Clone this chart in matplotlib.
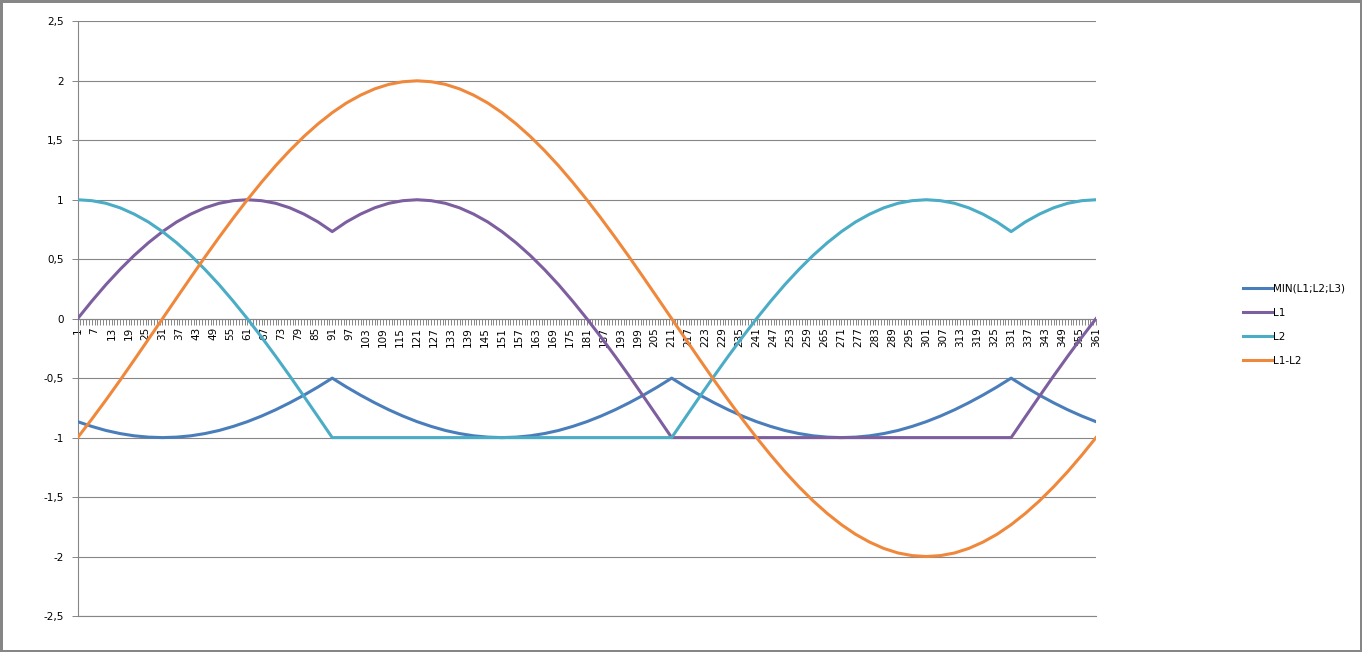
import numpy as np
import matplotlib
matplotlib.use("Agg")
import matplotlib.pyplot as plt

# categorias (1..361), valores leidos cada 5 puntos
x_pts = list(range(1, 362, 5))

min_l = [-0.866, -0.906, -0.940, -0.966, -0.985, -0.996, -1.000, -0.996, -0.985, -0.966, -0.940, -0.906,
         -0.866, -0.819, -0.766, -0.707, -0.643, -0.574, -0.500, -0.574, -0.643, -0.707, -0.766, -0.819,
         -0.866, -0.906, -0.940, -0.966, -0.985, -0.996, -1.000, -0.996, -0.985, -0.966, -0.940, -0.906,
         -0.866, -0.819, -0.766, -0.707, -0.643, -0.574, -0.500, -0.574, -0.643, -0.707, -0.766, -0.819,
         -0.866, -0.906, -0.940, -0.966, -0.985, -0.996, -1.000, -0.996, -0.985, -0.966, -0.940, -0.906,
         -0.866, -0.819, -0.766, -0.707, -0.643, -0.574, -0.500, -0.574, -0.643, -0.707, -0.766, -0.819,
         -0.866]

l1 = [0.000, 0.147, 0.286, 0.414, 0.532, 0.638, 0.732, 0.813, 0.879, 0.932, 0.970, 0.992,
      1.000, 0.992, 0.970, 0.932, 0.879, 0.813, 0.732, 0.813, 0.879, 0.932, 0.970, 0.992,
      1.000, 0.992, 0.970, 0.932, 0.879, 0.813, 0.732, 0.638, 0.532, 0.414, 0.286, 0.147,
      0.000, -0.155, -0.316, -0.482, -0.653, -0.826, -1.000, -1.000, -1.000, -1.000, -1.000, -1.000,
      -1.000, -1.000, -1.000, -1.000, -1.000, -1.000, -1.000, -1.000, -1.000, -1.000, -1.000, -1.000,
      -1.000, -1.000, -1.000, -1.000, -1.000, -1.000, -1.000, -0.826, -0.653, -0.482, -0.316, -0.155,
      0.000]

l2 = [1.000, 0.992, 0.970, 0.932, 0.879, 0.813, 0.732, 0.638, 0.532, 0.414, 0.286, 0.147,
      0.000, -0.155, -0.316, -0.482, -0.653, -0.826, -1.000, -1.000, -1.000, -1.000, -1.000, -1.000,
      -1.000, -1.000, -1.000, -1.000, -1.000, -1.000, -1.000, -1.000, -1.000, -1.000, -1.000, -1.000,
      -1.000, -1.000, -1.000, -1.000, -1.000, -1.000, -1.000, -0.826, -0.653, -0.482, -0.316, -0.155,
      0.000, 0.147, 0.286, 0.414, 0.532, 0.638, 0.732, 0.813, 0.879, 0.932, 0.970, 0.992,
      1.000, 0.992, 0.970, 0.932, 0.879, 0.813, 0.732, 0.813, 0.879, 0.932, 0.970, 0.992,
      1.000]

l1_l2 = [-1.000, -0.845, -0.684, -0.518, -0.347, -0.174, 0.000, 0.174, 0.347, 0.518, 0.684, 0.845,
         1.000, 1.147, 1.286, 1.414, 1.532, 1.638, 1.732, 1.813, 1.879, 1.932, 1.970, 1.992,
         2.000, 1.992, 1.970, 1.932, 1.879, 1.813, 1.732, 1.638, 1.532, 1.414, 1.286, 1.147,
         1.000, 0.845, 0.684, 0.518, 0.347, 0.174, 0.000, -0.174, -0.347, -0.518, -0.684, -0.845,
         -1.000, -1.147, -1.286, -1.414, -1.532, -1.638, -1.732, -1.813, -1.879, -1.932, -1.970, -1.992,
         -2.000, -1.992, -1.970, -1.932, -1.879, -1.813, -1.732, -1.638, -1.532, -1.414, -1.286, -1.147,
         -1.000]

series_names = ["MIN(L1;L2;L3)", "L1", "L2", "L1-L2"]
colors = ["#4A7EBB", "#7D5FA0", "#4BACC6", "#F0883C"]

x_ticks = list(range(1, 362, 6))
x_labels = [str(v) for v in x_ticks]
y_ticks = [-2.5, -2, -1.5, -1, -0.5, 0, 0.5, 1, 1.5, 2, 2.5]
y_labels = ["-2,5", "-2", "-1,5", "-1", "-0,5", "0", "0,5", "1", "1,5", "2", "2,5"]

grey = "#868686"
fs = 7.5

fig = plt.figure(figsize=(13.62, 6.52), dpi=100)
fig.patch.set_edgecolor(grey)
fig.patch.set_linewidth(2.5)
ax = fig.add_axes([0.0570, 0.0552, 0.7477, 0.9121])

# eje de categorias cruzando en 0 (antes de fijar ticks)
ax.spines["bottom"].set_position(("data", 0))
ax.spines["bottom"].set_color(grey)
ax.spines["left"].set_color(grey)
ax.spines["bottom"].set_zorder(2)
ax.spines["top"].set_visible(False)
ax.spines["right"].set_visible(False)

for vals, name, c, z in zip([min_l, l1, l2, l1_l2], series_names, colors, [3, 4, 5, 6]):
    ax.plot(x_pts, vals, color=c, lw=2.2, label=name, zorder=z, solid_joinstyle="round")

ax.set_xlim(1, 361)
ax.set_ylim(-2.5, 2.5)
ax.set_yticks(y_ticks)
ax.set_yticklabels(y_labels, fontsize=fs)
ax.set_xticks(x_ticks)
ax.set_xticklabels(x_labels, rotation=90, fontsize=fs)
ax.set_xticks(list(range(1, 362)), minor=True)

ax.grid(axis="y", color=grey, lw=0.8, zorder=1)
ax.axhline(-2.5, color=grey, lw=0.8, zorder=1, clip_on=False)
ax.tick_params(axis="x", which="both", direction="out", length=4, width=0.7, color=grey, pad=2)
ax.tick_params(axis="y", direction="out", length=4, width=0.7, color=grey, pad=6)

fig.legend(loc="center left", bbox_to_anchor=(1234 / 1362, 1 - 325 / 652), frameon=False,
           fontsize=fs, handlelength=2.7, handletextpad=0.1, labelspacing=1.35)

fig.savefig("out.png", dpi=100)
